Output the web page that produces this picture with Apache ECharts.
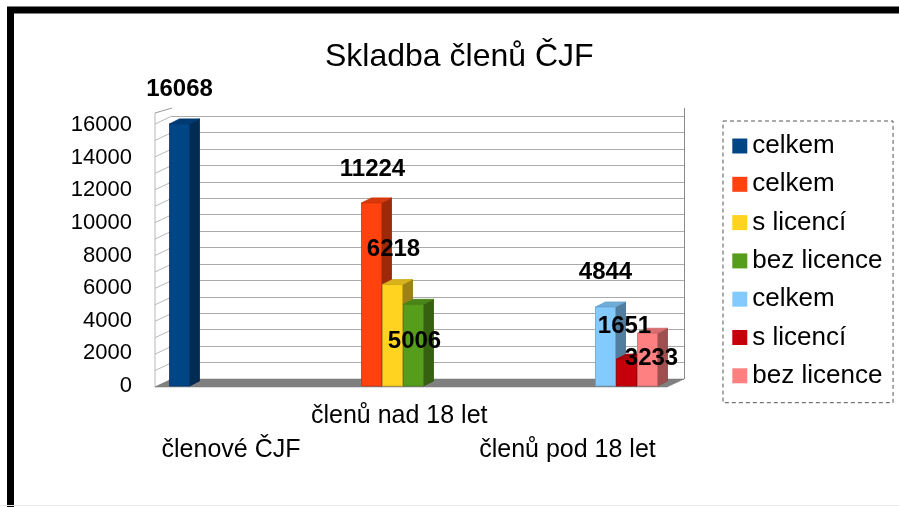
<!DOCTYPE html>
<html><head><meta charset="utf-8">
<script src="https://cdn.jsdelivr.net/npm/echarts@6/dist/echarts.min.js"></script>
<style>html,body{margin:0;padding:0;background:#fff}#c{width:899px;height:507px}</style>
</head><body><div id="c"></div><script>
// ---- data ----
const categories = ['členové ČJF', 'členů nad 18 let', 'členů pod 18 let'];
const seriesNames = ['celkem', 'celkem', 's licencí', 'bez licence', 'celkem', 's licencí', 'bez licence'];
const clenoveCelkem   = [16068, null, null];
const nad18Celkem     = [null, 11224, null];
const nad18SLicenci   = [null, 6218, null];
const nad18BezLicence = [null, 5006, null];
const pod18Celkem     = [null, null, 4844];
const pod18SLicenci   = [null, null, 1651];
const pod18BezLicence = [null, null, 3233];
const yMin = 0, yMax = 16000, yLabelStep = 2000, yGridStep = 1000;

// ---- style ----
const seriesValues = [clenoveCelkem, nad18Celkem, nad18SLicenci, nad18BezLicence, pod18Celkem, pod18SLicenci, pod18BezLicence];
const colors = ['#004586', '#ff420e', '#ffd320', '#579d1c', '#83caff', '#c5000b', '#ff8080'];
const labelOffsets = [[0, -35], [1, -34], [1, -35], [1, 37], [0, -35], [-2, -33], [4, 25]];
const BAR_W = 20, BAR_GAP = 1, DEPTH_X = 10, DEPTH_Y = -5;
const GROUP = seriesValues.length * BAR_W + (seriesValues.length - 1) * BAR_GAP;
const FONT = 'Liberation Sans, Arial, sans-serif';

function shade(hex, f) {
  const n = parseInt(hex.slice(1), 16);
  const r = Math.round(((n >> 16) & 255) * f), g = Math.round(((n >> 8) & 255) * f), b = Math.round((n & 255) * f);
  return 'rgb(' + r + ',' + g + ',' + b + ')';
}

function makeRender(slot) {
  return function (params, api) {
    const cat = api.value(0), v = api.value(1);
    if (isNaN(v)) return null;
    const p0 = api.coord([cat, 0]), p1 = api.coord([cat, v]);
    const x = p0[0] - GROUP / 2 + slot * (BAR_W + BAR_GAP);
    const yb = p0[1], yt = p1[1];
    const c = colors[slot];
    const edge = shade(c, 0.8);
    const off = labelOffsets[slot];
    return {
      type: 'group',
      children: [
        { type: 'polygon', shape: { points: [[x + BAR_W, yt], [x + BAR_W + DEPTH_X, yt + DEPTH_Y], [x + BAR_W + DEPTH_X, yb + DEPTH_Y], [x + BAR_W, yb]] },
          style: { fill: shade(c, 0.62), stroke: shade(c, 0.55), lineWidth: 0.8 } },
        { type: 'polygon', shape: { points: [[x, yt], [x + DEPTH_X, yt + DEPTH_Y], [x + BAR_W + DEPTH_X, yt + DEPTH_Y], [x + BAR_W, yt]] },
          style: { fill: shade(c, 0.85), stroke: edge, lineWidth: 0.8 } },
        { type: 'rect', shape: { x: x, y: yt, width: BAR_W, height: yb - yt },
          style: { fill: c, stroke: edge, lineWidth: 0.8 } },
        { type: 'text', z2: 100, x: x + BAR_W / 2 + off[0], y: yt + off[1],
          style: { text: String(v), fill: '#000', font: 'bold 24px ' + FONT, align: 'center', verticalAlign: 'middle' } }
      ]
    };
  };
}

const series = seriesValues.map(function (vals, i) {
  const data = [];
  vals.forEach(function (v, ci) { if (v !== null) data.push([ci, v]); });
  return {
    type: 'custom',
    name: seriesNames[i] + '\u200b'.repeat(i),
    xAxisIndex: 1, yAxisIndex: 1,
    encode: { x: 0, y: 1 },
    itemStyle: { color: colors[i] },
    renderItem: makeRender(i),
    data: data
  };
});

const chart = echarts.init(document.getElementById('c'), null, { renderer: 'canvas' });
chart.setOption({
  animation: false,
  color: colors,
  textStyle: { fontFamily: FONT },
  title: {
    text: 'Skladba členů ČJF', left: 325, top: 41, padding: 0,
    textStyle: { fontSize: 32, fontWeight: 'normal', color: '#000', fontFamily: FONT }
  },
  legend: {
    orient: 'vertical', left: 723, top: 121,
    padding: [12, 10.7, 13.9, 9.3],
    itemWidth: 15, itemHeight: 15, itemGap: 12.3, itemTextGap: 11,
    icon: 'rect',
    borderColor: '#555', borderWidth: 1, borderType: [4, 3],
    textStyle: { fontSize: 26, lineHeight: 25, color: '#000', fontFamily: FONT },
    formatter: function (n) { return n.replace(/\u200b/g, ''); },
    selectedMode: false
  },
  grid: [
    { left: 172, right: 215, top: 116, bottom: 128, outerBoundsMode: 'none', containLabel: false },
    { left: 157, right: 229, top: 125, bottom: 121, outerBoundsMode: 'none', containLabel: false },
    { left: 146.9, right: 247.4, top: 125, bottom: 121, outerBoundsMode: 'none', containLabel: false }
  ],
  xAxis: [
    { gridIndex: 0, type: 'category', data: categories, show: false },
    { gridIndex: 1, type: 'category', data: categories, show: false },
    { gridIndex: 2, type: 'category', data: categories,
      axisLine: { show: false }, axisTick: { show: false }, splitLine: { show: false },
      axisLabel: { interval: 0, margin: 13, fontSize: 25, lineHeight: 34, color: '#000', fontFamily: FONT,
        formatter: function (v, i) { return i === 1 ? v : '\n' + v; } } }
  ],
  yAxis: [
    { gridIndex: 0, type: 'value', min: yMin, max: yMax, interval: yGridStep,
      axisLabel: { show: false }, axisLine: { show: false }, axisTick: { show: false },
      splitLine: { show: true, lineStyle: { color: '#ababab', width: 1 } } },
    { gridIndex: 1, type: 'value', min: yMin, max: yMax, interval: yLabelStep,
      axisLine: { show: false }, axisTick: { show: false }, splitLine: { show: false },
      axisLabel: { fontSize: 22, color: '#000', margin: 25, padding: [4, 0, 0, 0], fontFamily: FONT,
        formatter: function (v) { return String(v); } } },
    { gridIndex: 2, type: 'value', min: 0, max: 1, show: false, splitLine: { show: false } }
  ],
  series: series
});

// ---- decorative 3D walls / floor / frame ----
const WALL_L = 155, WALL_B = 172, WALL_R = 684, FLOOR_DX = 17, FLOOR_DY = 8;
const yBack0 = chart.convertToPixel({ yAxisIndex: 0 }, yMin);
const yBackTop = chart.convertToPixel({ yAxisIndex: 0 }, yMax) - 8;
const g = [];
for (let v = yMin; v <= yMax; v += yGridStep) {
  const yb = chart.convertToPixel({ yAxisIndex: 0 }, v);
  g.push({ type: 'line', shape: { x1: WALL_L, y1: yb + FLOOR_DY, x2: WALL_B, y2: yb }, style: { stroke: '#b8b8b8', lineWidth: 1 }, z: 0 });
}
g.push({ type: 'line', shape: { x1: WALL_L, y1: yBackTop + FLOOR_DY - 3, x2: WALL_B, y2: yBackTop }, style: { stroke: '#999', lineWidth: 1 }, z: 0 });
g.push({ type: 'line', shape: { x1: WALL_L, y1: yBackTop + FLOOR_DY - 3, x2: WALL_L, y2: yBack0 + FLOOR_DY }, style: { stroke: '#b8b8b8', lineWidth: 1 }, z: 0 });
g.push({ type: 'line', shape: { x1: WALL_R + 0.5, y1: yBackTop, x2: WALL_R + 0.5, y2: yBack0 }, style: { stroke: '#8a8a8a', lineWidth: 1 }, z: 0 });
g.push({ type: 'polygon', shape: { points: [[WALL_L, yBack0 + FLOOR_DY], [WALL_B, yBack0], [WALL_R, yBack0], [WALL_R - FLOOR_DX, yBack0 + FLOOR_DY]] },
  style: { fill: '#808080', stroke: '#777', lineWidth: 0.5 }, z: 0 });
g.push({ type: 'rect', shape: { x: 10.5, y: 10, width: 2000, height: 2000 }, style: { fill: 'none', stroke: '#000', lineWidth: 7 }, z: 10 });
g.push({ type: 'line', shape: { x1: 0, y1: 505.5, x2: 899, y2: 505.5 }, style: { stroke: '#e8e8e8', lineWidth: 1 }, z: 10 });
chart.setOption({ graphic: g });
</script></body></html>
